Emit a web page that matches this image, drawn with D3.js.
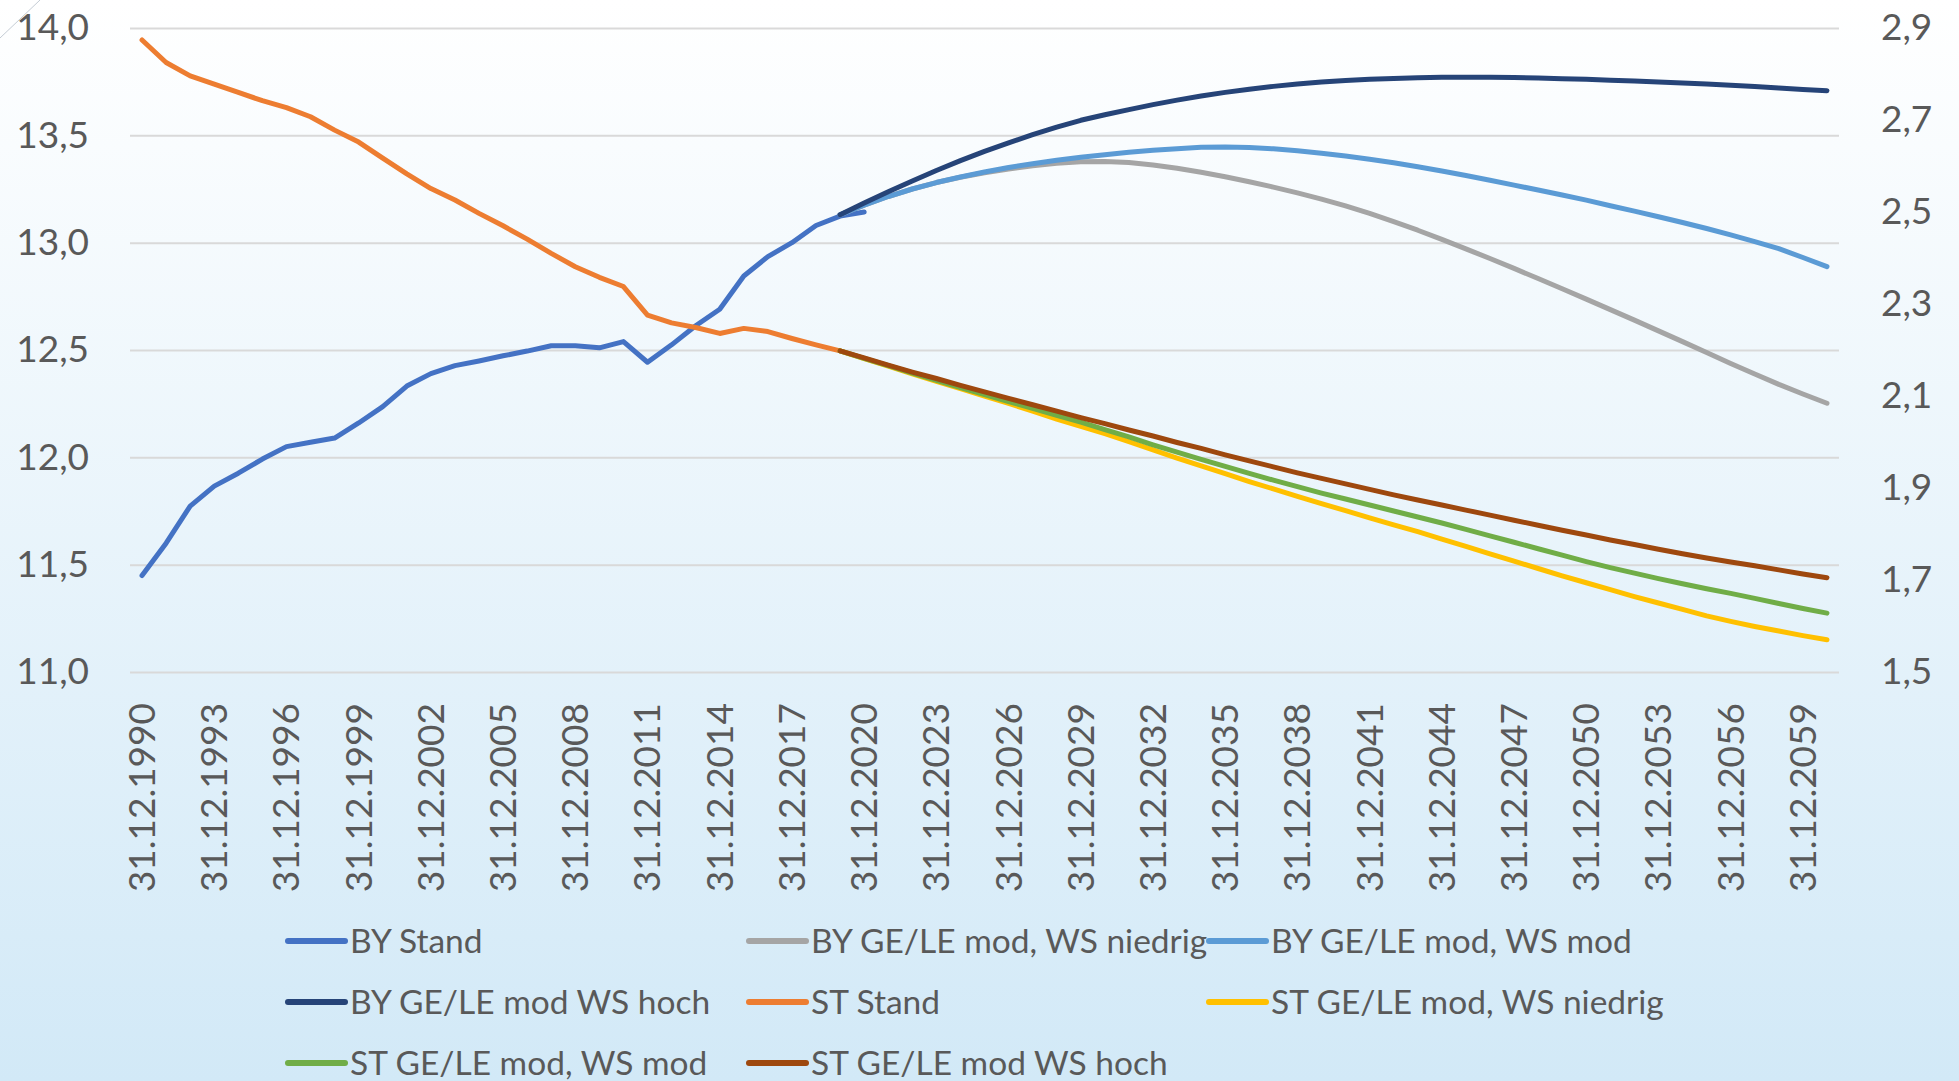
<!DOCTYPE html>
<html>
<head>
<meta charset="utf-8">
<title>Bevoelkerung BY / ST</title>
<style>
  body { margin: 0; background: #ffffff; }
  svg text { font-family: Lato, "Open Sans", sans-serif; fill: #595959; }
</style>
</head>
<body>
<svg width="1959" height="1081"></svg>
<script src="https://d3js.org/d3.v7.min.js"></script>
<script>
// categories: end of year, 1990 .. 2060
var categories = [
  "31.12.1990","31.12.1991","31.12.1992","31.12.1993","31.12.1994","31.12.1995","31.12.1996","31.12.1997","31.12.1998","31.12.1999",
  "31.12.2000","31.12.2001","31.12.2002","31.12.2003","31.12.2004","31.12.2005","31.12.2006","31.12.2007","31.12.2008","31.12.2009",
  "31.12.2010","31.12.2011","31.12.2012","31.12.2013","31.12.2014","31.12.2015","31.12.2016","31.12.2017","31.12.2018","31.12.2019",
  "31.12.2020","31.12.2021","31.12.2022","31.12.2023","31.12.2024","31.12.2025","31.12.2026","31.12.2027","31.12.2028","31.12.2029",
  "31.12.2030","31.12.2031","31.12.2032","31.12.2033","31.12.2034","31.12.2035","31.12.2036","31.12.2037","31.12.2038","31.12.2039",
  "31.12.2040","31.12.2041","31.12.2042","31.12.2043","31.12.2044","31.12.2045","31.12.2046","31.12.2047","31.12.2048","31.12.2049",
  "31.12.2050","31.12.2051","31.12.2052","31.12.2053","31.12.2054","31.12.2055","31.12.2056","31.12.2057","31.12.2058","31.12.2059",
  "31.12.2060"
];
var xTickLabels = [
  "31.12.1990","31.12.1993","31.12.1996","31.12.1999","31.12.2002","31.12.2005","31.12.2008","31.12.2011",
  "31.12.2014","31.12.2017","31.12.2020","31.12.2023","31.12.2026","31.12.2029","31.12.2032","31.12.2035",
  "31.12.2038","31.12.2041","31.12.2044","31.12.2047","31.12.2050","31.12.2053","31.12.2056","31.12.2059"
];
var leftTicks = [11.0, 11.5, 12.0, 12.5, 13.0, 13.5, 14.0];
var rightTicks = [1.5, 1.7, 1.9, 2.1, 2.3, 2.5, 2.7, 2.9];

// Bayern, Mio. (left axis) - Stand from 1990
var byStand = [11.449, 11.60, 11.773, 11.866, 11.926, 11.992, 12.05, 12.07, 12.09, 12.16,
  12.236, 12.332, 12.39, 12.427, 12.449, 12.473, 12.495, 12.52, 12.52, 12.51,
  12.539, 12.443, 12.524, 12.613, 12.69, 12.845, 12.935, 13.0, 13.08, 13.124,
  13.143];
// projections from 2019
var byNiedrig = [13.13, 13.175, 13.215, 13.25, 13.28, 13.305, 13.326, 13.343, 13.358, 13.37,
  13.377, 13.378, 13.373, 13.362, 13.347, 13.328, 13.307, 13.284, 13.259, 13.232,
  13.203, 13.171, 13.136, 13.098, 13.058, 13.015, 12.971, 12.926, 12.88, 12.833,
  12.785, 12.737, 12.688, 12.639, 12.589, 12.539, 12.488, 12.437, 12.388, 12.34,
  12.295, 12.252];
var byMod = [13.13, 13.175, 13.215, 13.25, 13.28, 13.306, 13.329, 13.35, 13.368, 13.384,
  13.398, 13.41, 13.421, 13.43, 13.438, 13.444, 13.446, 13.443, 13.437, 13.428,
  13.417, 13.404, 13.389, 13.372, 13.354, 13.334, 13.313, 13.291, 13.268, 13.245,
  13.222, 13.198, 13.172, 13.147, 13.121, 13.094, 13.066, 13.036, 13.005, 12.972,
  12.931, 12.888];
var byHoch = [13.13, 13.185, 13.237, 13.287, 13.336, 13.382, 13.425, 13.465, 13.503, 13.538,
  13.57, 13.596, 13.62, 13.643, 13.664, 13.683, 13.70, 13.715, 13.728, 13.739,
  13.748, 13.755, 13.761, 13.765, 13.768, 13.77, 13.771, 13.77, 13.769, 13.767,
  13.764, 13.761, 13.757, 13.753, 13.749, 13.744, 13.739, 13.733, 13.727, 13.72,
  13.714, 13.708];

// Sachsen-Anhalt, Mio. (right axis) - Stand from 1990
var stStand = [2.874, 2.825, 2.796, 2.778, 2.760, 2.742, 2.727, 2.707, 2.678, 2.652,
  2.617, 2.583, 2.551, 2.526, 2.497, 2.470, 2.441, 2.410, 2.381, 2.358,
  2.338, 2.276, 2.259, 2.249, 2.236, 2.247, 2.240, 2.225, 2.211, 2.198];
// projections from 2019
var stNiedrig = [2.198, 2.181, 2.165, 2.148, 2.132, 2.116, 2.100, 2.084, 2.067, 2.050,
  2.034, 2.018, 2.001, 1.983, 1.965, 1.948, 1.931, 1.914, 1.898, 1.882,
  1.866, 1.851, 1.835, 1.820, 1.805, 1.789, 1.773, 1.757, 1.741, 1.725,
  1.709, 1.694, 1.679, 1.664, 1.650, 1.636, 1.622, 1.610, 1.599, 1.589,
  1.579, 1.570];
var stMod = [2.198, 2.182, 2.166, 2.150, 2.134, 2.118, 2.103, 2.088, 2.073, 2.058,
  2.043, 2.027, 2.011, 1.994, 1.978, 1.962, 1.947, 1.932, 1.917, 1.903,
  1.889, 1.876, 1.863, 1.850, 1.837, 1.824, 1.810, 1.796, 1.782, 1.768,
  1.754, 1.740, 1.727, 1.715, 1.703, 1.692, 1.681, 1.671, 1.660, 1.649,
  1.638, 1.628];
var stHoch = [2.198, 2.183, 2.167, 2.152, 2.138, 2.123, 2.109, 2.095, 2.081, 2.067,
  2.053, 2.040, 2.026, 2.013, 1.999, 1.986, 1.972, 1.959, 1.946, 1.933,
  1.921, 1.909, 1.897, 1.885, 1.874, 1.863, 1.852, 1.841, 1.830, 1.819,
  1.808, 1.798, 1.787, 1.777, 1.767, 1.757, 1.748, 1.739, 1.731, 1.722,
  1.713, 1.705];

// series table (legend order = draw order)
var series = [
  {name: "BY Stand",                  color: "#4472C4", axis: "L", start: "31.12.1990", values: byStand},
  {name: "BY GE/LE mod, WS niedrig",  color: "#A5A5A5", axis: "L", start: "31.12.2019", values: byNiedrig},
  {name: "BY GE/LE mod, WS mod",      color: "#5B9BD5", axis: "L", start: "31.12.2019", values: byMod},
  {name: "BY GE/LE mod WS hoch",      color: "#264478", axis: "L", start: "31.12.2019", values: byHoch},
  {name: "ST Stand",                  color: "#ED7D31", axis: "R", start: "31.12.1990", values: stStand},
  {name: "ST GE/LE mod, WS niedrig",  color: "#FFC000", axis: "R", start: "31.12.2019", values: stNiedrig},
  {name: "ST GE/LE mod, WS mod",      color: "#70AD47", axis: "R", start: "31.12.2019", values: stMod},
  {name: "ST GE/LE mod WS hoch",      color: "#9E480E", axis: "R", start: "31.12.2019", values: stHoch}
];

var svg = d3.select("svg"),
    width = +svg.attr("width"),
    height = +svg.attr("height");

var plotLeft = 130, plotRight = 1839, plotTop = 28, plotBottom = 672;

// background gradient, white to light blue
var grad = svg.append("defs").append("linearGradient")
    .attr("id", "bg")
    .attr("x1", 0).attr("y1", 0).attr("x2", 0).attr("y2", 1);
grad.append("stop").attr("offset", "0%").attr("stop-color", "#ffffff");
grad.append("stop").attr("offset", "100%").attr("stop-color", "#d2e9f7");

svg.append("rect")
    .attr("width", width)
    .attr("height", height)
    .attr("fill", "url(#bg)");

// small stray line in the corner
svg.append("line")
    .attr("x1", 0).attr("y1", 38).attr("x2", 40).attr("y2", 0)
    .attr("stroke", "#c4ccd4")
    .attr("stroke-width", 1);

var x = d3.scaleBand()
    .domain(categories)
    .range([plotLeft, plotRight]);

var yL = d3.scaleLinear().domain([11, 14]).range([plotBottom, plotTop]);
var yR = d3.scaleLinear().domain([1.5, 2.9]).range([plotBottom, plotTop]);

function comma(d) { return d3.format(".1f")(d).replace(".", ","); }

// gridlines from the left axis
svg.append("g")
    .attr("class", "grid")
    .attr("transform", "translate(" + plotLeft + ",0)")
    .call(d3.axisLeft(yL).tickValues(leftTicks).tickSize(-(plotRight - plotLeft)).tickFormat(""))
    .call(function(g) { g.select(".domain").remove(); })
    .selectAll("line")
    .attr("stroke", "#d9d9d9")
    .attr("stroke-width", 2);

// left axis
svg.append("g")
    .attr("transform", "translate(" + plotLeft + ",0)")
    .call(d3.axisLeft(yL).tickValues(leftTicks).tickSize(0).tickPadding(41).tickFormat(comma))
    .call(function(g) { g.select(".domain").remove(); })
    .selectAll("text")
    .attr("font-family", "Lato")
    .attr("font-size", 37)
    .attr("fill", "#595959");

// right axis
svg.append("g")
    .attr("transform", "translate(" + plotRight + ",0)")
    .call(d3.axisRight(yR).tickValues(rightTicks).tickSize(0).tickPadding(42).tickFormat(comma))
    .call(function(g) { g.select(".domain").remove(); })
    .selectAll("text")
    .attr("font-family", "Lato")
    .attr("font-size", 37)
    .attr("fill", "#595959");

// category axis, labels turned upright
svg.append("g")
    .attr("transform", "translate(0," + plotBottom + ")")
    .call(d3.axisBottom(x).tickValues(xTickLabels).tickSize(0))
    .call(function(g) { g.select(".domain").remove(); })
    .selectAll("text")
    .attr("font-family", "Lato")
    .attr("font-size", 37)
    .attr("fill", "#595959")
    .attr("text-anchor", "end")
    .attr("transform", "rotate(-90)")
    .attr("x", -31)
    .attr("y", 0)
    .attr("dy", "0.35em");

// the lines
var line = d3.line()
    .x(function(d) { return x(d.cat) + x.bandwidth() / 2; })
    .y(function(d) { return d.scale(d.v); });

series.forEach(function(s) {
  var i0 = categories.indexOf(s.start);
  var scale = s.axis == "L" ? yL : yR;
  var pts = s.values.map(function(v, i) {
    return {cat: categories[i0 + i], v: v, scale: scale};
  });
  svg.append("path")
      .datum(pts)
      .attr("fill", "none")
      .attr("stroke", s.color)
      .attr("stroke-width", 5)
      .attr("stroke-linejoin", "round")
      .attr("stroke-linecap", "round")
      .attr("d", line);
});

// legend, 3 columns
var legCols = [288, 749, 1209], legRows = [941, 1002, 1063];

var leg = svg.append("g").attr("class", "legend")
  .selectAll("g")
  .data(series)
  .enter().append("g")
    .attr("transform", function(d, i) {
      return "translate(" + legCols[i % 3] + "," + legRows[Math.floor(i / 3)] + ")";
    });

leg.append("line")
    .attr("x1", 0).attr("x2", 57)
    .attr("stroke", function(d) { return d.color; })
    .attr("stroke-width", 6)
    .attr("stroke-linecap", "round");

leg.append("text")
    .attr("x", 62)
    .attr("dy", "0.36em")
    .attr("font-family", "Lato")
    .attr("font-size", 33.5)
    .attr("fill", "#595959")
    .text(function(d) { return d.name; });
</script>
</body>
</html>
